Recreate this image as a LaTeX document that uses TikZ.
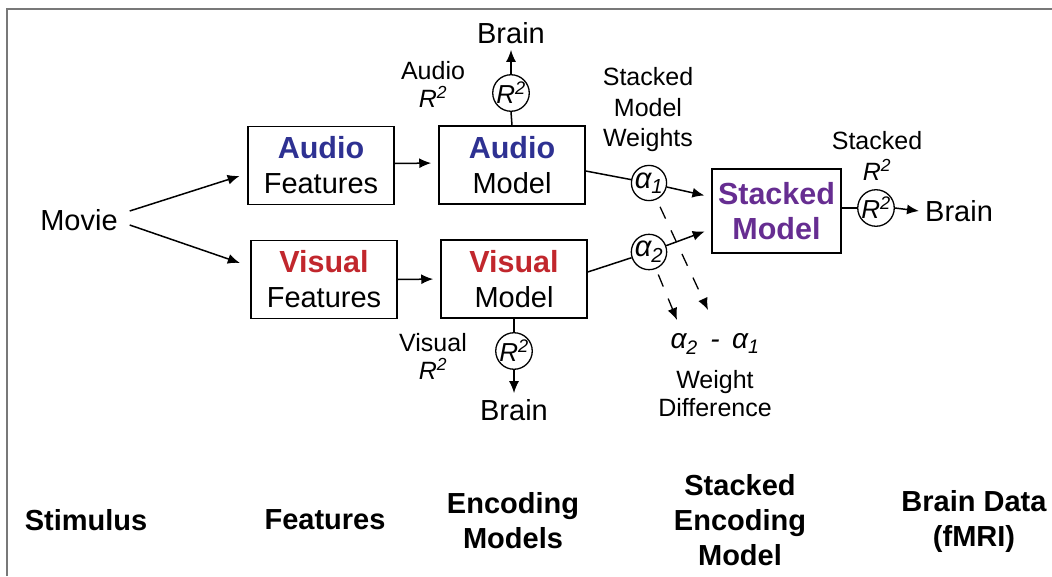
\documentclass[tikz,border=0pt]{standalone}
\usepackage{fontspec}
\setmainfont{Liberation Sans}
\usepackage{tikz}
\usetikzlibrary{arrows.meta,positioning,calc}
\definecolor{audioblue}{RGB}{46,49,146}
\definecolor{visualred}{RGB}{193,39,45}
\definecolor{stackpurple}{RGB}{102,45,145}
\definecolor{framegray}{RGB}{120,120,120}
\newcommand{\bigtxt}{\fontsize{29}{35}\selectfont}
\newcommand{\smalltxt}{\fontsize{25}{28}\selectfont}
\newcommand{\circtxt}{\fontsize{26}{28}\selectfont}
\newcommand{\boldtxt}[1]{{\fontsize{30.5}{35}\selectfont\bfseries #1}}
\newcommand{\rsq}{\textit{R\textsuperscript{2}}}

\begin{document}
\begin{tikzpicture}[x=1pt,y=-1pt,
    box/.style={draw, line width=1.5pt, minimum width=146pt, minimum height=78pt, align=center, inner sep=0pt, font=\bigtxt},
    ring/.style={draw, circle, line width=1.3pt, minimum size=36pt, inner sep=0pt, font=\circtxt},
    lbl/.style={align=center, inner sep=0pt, font=\smalltxt},
    brain/.style={inner sep=6pt, font=\bigtxt},
    stage/.style={align=center, inner sep=0pt, font=\bigtxt\bfseries},
    link/.style={line width=1.5pt},
    arrow/.style={line width=1.5pt, -{Latex[length=12pt,width=10pt]}},
    dasharrow/.style={line width=1.3pt, dash pattern=on 13pt off 13pt, -{Latex[length=12pt,width=10pt]}}]
  \useasboundingbox (0,0) rectangle (1052,576);

  % Draw frame
  \draw[framegray, line width=2.5pt] (7,576) -- (7,9) -- (1052,9);

  % Draw stimulus
  \node[inner sep=2pt, outer sep=10pt, font=\bigtxt] (movie) at (79,220) {Movie};

  % Draw feature and model boxes
  \node[box] (afeat) at (321,165.5) {\boldtxt{\textcolor{audioblue}{Audio}}\\Features};
  \node[box] (vfeat) at (324,279.5) {\boldtxt{\textcolor{visualred}{Visual}}\\Features};
  \node[box] (amod) at (512,165) {\boldtxt{\textcolor{audioblue}{Audio}}\\Model};
  \node[box] (vmod) at (514,279) {\boldtxt{\textcolor{visualred}{Visual}}\\Model};
  \node[box, minimum width=129pt, minimum height=84pt] (smod) at (776.5,211)
    {\boldtxt{\textcolor{stackpurple}{Stacked}}\\\boldtxt{\textcolor{stackpurple}{Model}}};

  % Draw R^2 circles and brain outputs
  \node[ring] (r2a) at (511,93) {\rsq};
  \node[ring] (r2v) at (514,351) {\rsq};
  \node[ring] (r2s) at (876,208) {\rsq};
  \node[brain] (braina) at (511,33) {Brain};
  \node[brain] (brainv) at (514,410) {Brain};
  \node[brain, anchor=west] (brains) at (919,211) {Brain};

  % Draw weight circles
  \node[ring, minimum size=35pt, font=\fontsize{29}{30}\selectfont] (a1) at (649,183) {\textit{α\textsubscript{1}}};
  \node[ring, minimum size=35pt, font=\fontsize{29}{30}\selectfont] (a2) at (649,252) {\textit{α\textsubscript{2}}};

  % Draw labels
  \node[lbl] (alab) at (433,84) {Audio\\\rsq};
  \node[lbl] (vlab) at (433,356) {Visual\\\rsq};
  \node[lbl, font=\fontsize{25}{30.5}\selectfont] (wlab) at (648,110) {Stacked\\Model\\Weights};
  \node[lbl, font=\fontsize{25}{31}\selectfont] (slab) at (877,156) {Stacked\\\rsq};
  \node[lbl, font=\fontsize{28}{30}\selectfont] (adiff) at (715,344) {\textit{α\textsubscript{2} \,-\, α\textsubscript{1}}};
  \node[lbl] (wdiff) at (715,394) {Weight\\Difference};
  \coordinate (d1) at (708,310);
  \coordinate (d2) at (677,320);

  % Draw connections
  \draw[arrow, shorten >=8pt] ([yshift=9pt]movie.east) -- ([yshift=-8pt]afeat.west);
  \draw[arrow, shorten >=11pt] ([yshift=-5pt]movie.east) -- ([yshift=13pt]vfeat.west);
  \draw[arrow, shorten >=7pt] ([yshift=2pt]afeat.east) -- ([yshift=2pt]amod.west);
  \draw[arrow, shorten >=7pt] (vfeat.east) -- (vmod.west);
  \draw[link] (amod.north) -- (r2a.south);
  \draw[arrow] (r2a.north) -- (braina.south);
  \draw[link] (vmod.south) -- (r2v.north);
  \draw[arrow] (r2v.south) -- (brainv.north);
  \draw[link] (smod.east |- r2s.west) -- (r2s.west);
  \draw[arrow] (r2s.east) -- (brains.west);

  % Draw stacking weights
  \draw[link] ([yshift=-6pt]amod.east) -- (a1);
  \draw[arrow, shorten >=7pt] (a1) -- ([yshift=14pt]smod.west);
  \draw[link] ([yshift=7pt]vmod.east) -- (a2);
  \draw[arrow, shorten >=7pt] (a2) -- ([yshift=-18pt]smod.west);
  \draw[dasharrow, shorten <=8pt] (a1) -- (d1);
  \draw[dasharrow, shorten <=6pt] (a2) -- (d2);

  % Draw stage titles
  \node[stage] (s1) at (86,520) {Stimulus};
  \node[stage] (s2) at (325,520) {Features};
  \node[stage] (s3) at (513,521) {Encoding\\Models};
  \node[stage] (s4) at (740,520) {Stacked\\Encoding\\Model};
  \node[stage] (s5) at (974,521) {Brain Data\\(fMRI)};
\end{tikzpicture}
\end{document}
